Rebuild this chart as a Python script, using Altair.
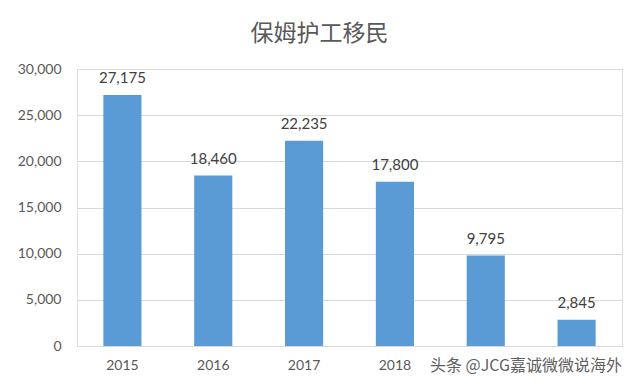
import altair as alt
import pandas as pd

years = ["2015", "2016", "2017", "2018", "2019", "2020"]
values = [27175, 18460, 22235, 17800, 9795, 2845]
title_text = "保姆护工移民"
watermark = "头条 @JCG嘉诚微微说海外"

df = pd.DataFrame({"year": years, "value": values})

base = alt.Chart(df)

bars = base.mark_bar(color="#5B9BD5").encode(
    x=alt.X("year:N", sort=years,
            scale=alt.Scale(paddingInner=0.58, paddingOuter=0.29),
            axis=alt.Axis(title=None, labelAngle=0, labelFontSize=14, labelColor="#595959",
                          labelFont="Lato", ticks=False, domainColor="#d9d9d9",
                          labelPadding=12,
                          labelExpr="datum.label == '2019' || datum.label == '2020' ? '' : datum.label")),
    y=alt.Y("value:Q", scale=alt.Scale(domain=[0, 30000]),
            axis=alt.Axis(title=None, values=[0, 5000, 10000, 15000, 20000, 25000, 30000],
                          format=",d", labelFontSize=14, labelColor="#595959", labelFont="Lato",
                          ticks=False, domain=False, gridColor="#d9d9d9", labelPadding=16)),
)

labels = base.mark_text(baseline="bottom", dy=-9, fontSize=15, color="#404040", font="Lato").encode(
    x=alt.X("year:N", sort=years),
    y="value:Q",
    text=alt.Text("value:Q", format=",d"),
)

wm = alt.Chart(pd.DataFrame({"t": [watermark]})).mark_text(
    align="left", baseline="middle", fontSize=16, color="#444444", opacity=0.85,
    font="Noto Sans CJK SC"
).encode(x=alt.value(353), y=alt.value(297), text="t:N")

chart = alt.layer(bars, labels, wm).properties(
    width=545, height=277,
    padding={"left": 69, "top": 61, "right": 10, "bottom": 33},
    autosize=alt.AutoSizeParams(type="none"),
    title=alt.TitleParams(title_text, fontSize=23, font="Noto Sans CJK SC", fontWeight="normal",
                          color="#595959", anchor="middle", offset=16, dx=-30),
).configure_view(stroke=None).configure(background="white")

chart.save("out.html", embed_options={"renderer": "svg", "actions": False})
